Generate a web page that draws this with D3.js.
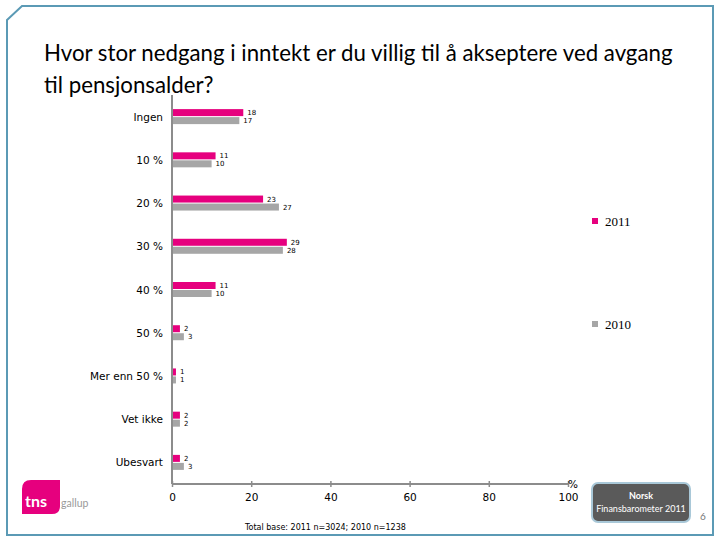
<!DOCTYPE html>
<html><head><meta charset="utf-8">
<script src="https://cdn.jsdelivr.net/npm/d3@7"></script>
<style>body{margin:0;background:#fff}svg{display:block}</style>
</head><body>
<svg id="c" width="720" height="540"></svg>
<script>
const categories = ["Ingen","10 %","20 %","30 %","40 %","50 %","Mer enn 50 %","Vet ikke","Ubesvart"];
const series2011 = [18,11,23,29,11,2,1,2,2];
const series2010 = [17,10,27,28,10,3,1,2,3];
const seriesNames = ["2011","2010"];
const xTicks = [0,20,40,60,80,100];
const titleLines = ["Hvor stor nedgang i inntekt er du villig til å akseptere ved avgang","til pensjonsalder?"];
const footnote = "Total base: 2011 n=3024; 2010 n=1238";

const colors = {"2011":"#e6007e","2010":"#a6a6a6"};
const svg = d3.select("#c");
const font = "Lato, 'Open Sans', sans-serif";

// slide frame
svg.append("path")
  .attr("d","M7,20 L22,6 L713,6 L713,535 L7,535 Z")
  .attr("fill","none").attr("stroke","#5b9ab5").attr("stroke-width",2);

// title (condensed horizontally to mimic the narrow original face)
const tg = svg.append("g");
const tt = tg.selectAll("text").data(titleLines).join("text")
  .attr("x",0).attr("y",(d,i)=>61+i*32)
  .attr("font-family",font).attr("font-size",23.5).attr("fill","#000")
  .text(d=>d);
const natural = tt.node().getComputedTextLength();
const sx = 629/natural;
tg.attr("transform",`translate(44,0) scale(${sx},1)`);

const x = d3.scaleLinear().domain([0,100]).range([172,568]);
const y = d3.scaleBand().domain(categories).range([95,484]);
const inner = d3.scaleBand().domain(seriesNames).range([-8,8]);

const data = categories.map((c,i)=>({cat:c, vals:[{s:"2011",v:series2011[i]},{s:"2010",v:series2010[i]}]}));

const groups = svg.append("g").selectAll("g").data(data).join("g")
  .attr("transform",d=>`translate(0,${y(d.cat)+y.bandwidth()/2})`);

groups.selectAll("rect").data(d=>d.vals).join("rect")
  .attr("x",x(0)).attr("y",d=>inner(d.s)+0.5)
  .attr("width",d=>x(d.v)-x(0)).attr("height",inner.bandwidth()-1)
  .attr("fill",d=>colors[d.s]);

groups.selectAll("text.v").data(d=>d.vals).join("text").attr("class","v")
  .attr("x",d=>x(d.v)+4).attr("y",d=>inner(d.s)+inner.bandwidth()/2+2.5)
  .attr("font-family","'DejaVu Sans', sans-serif").attr("font-size",7).attr("fill","#000")
  .text(d=>d.v);

// category labels
svg.append("g").selectAll("text").data(categories).join("text")
  .attr("x",163).attr("y",d=>y(d)+y.bandwidth()/2+4)
  .attr("text-anchor","end").attr("font-family","'DejaVu Sans', sans-serif").attr("font-size",10.5).attr("fill","#000")
  .text(d=>d);

// axes
svg.append("line").attr("x1",x(0)).attr("x2",x(0)).attr("y1",95).attr("y2",484)
  .attr("stroke","#8c8c8c").attr("stroke-width",2);
const xa = svg.append("g").attr("transform","translate(0,484)")
  .call(d3.axisBottom(x).tickValues(xTicks).tickSize(4).tickFormat(d3.format("d")));
xa.select(".domain").attr("stroke","#8c8c8c").attr("stroke-width",2).attr("d",`M${x(0)},0H${x(100)}`);
xa.selectAll(".tick line").attr("stroke","#8c8c8c").attr("stroke-width",1.5).attr("y1",-3).attr("y2",3);
xa.selectAll(".tick text").attr("y",10).attr("font-family","'DejaVu Sans', sans-serif").attr("font-size",10.5).attr("fill","#000");
svg.append("text").attr("x",573).attr("y",488).attr("text-anchor","middle")
  .attr("font-family","'DejaVu Sans', sans-serif").attr("font-size",10.5).text("%");

// legend
const leg = svg.append("g").selectAll("g").data(seriesNames).join("g")
  .attr("transform",(d,i)=>`translate(592,${218+i*103})`);
leg.append("rect").attr("width",6).attr("height",6).attr("fill",d=>colors[d]);
leg.append("text").attr("x",13).attr("y",8).attr("font-family","'Liberation Serif', 'DejaVu Serif', serif")
  .attr("font-size",13).text(d=>d);

// footnote
svg.append("text").attr("x",245).attr("y",530).attr("font-family","'DejaVu Sans', sans-serif")
  .attr("font-size",8).attr("fill","#000").text(footnote);

// tns gallup logo
svg.append("path").attr("d","M31,480 L60,480 L60,506 Q60,514 52,514 L22,514 L22,489 Q22,480 31,480 Z").attr("fill","#e6007e");
svg.append("text").attr("x",25).attr("y",507).attr("font-family",font).attr("font-weight","bold")
  .attr("font-size",16).attr("fill","#fff").text("tns");
svg.append("text").attr("x",61).attr("y",507).attr("font-family",font)
  .attr("font-size",10.5).attr("fill","#999").text("gallup");

// Norsk Finansbarometer badge
svg.append("rect").attr("x",592).attr("y",483).attr("width",98).attr("height",39).attr("rx",6)
  .attr("fill","#5a5a5a").attr("stroke","#a9c8d8").attr("stroke-width",2);
svg.append("text").attr("x",641).attr("y",499).attr("text-anchor","middle").attr("font-family",font)
  .attr("font-size",9).attr("font-weight","bold").attr("fill","#fff").text("Norsk");
svg.append("text").attr("x",641).attr("y",512).attr("text-anchor","middle").attr("font-family",font)
  .attr("font-size",9).attr("fill","#fff").text("Finansbarometer 2011");
svg.append("text").attr("x",703).attr("y",520).attr("text-anchor","middle").attr("font-family",font)
  .attr("font-size",10).attr("fill","#777").text("6");
</script>
</body></html>
